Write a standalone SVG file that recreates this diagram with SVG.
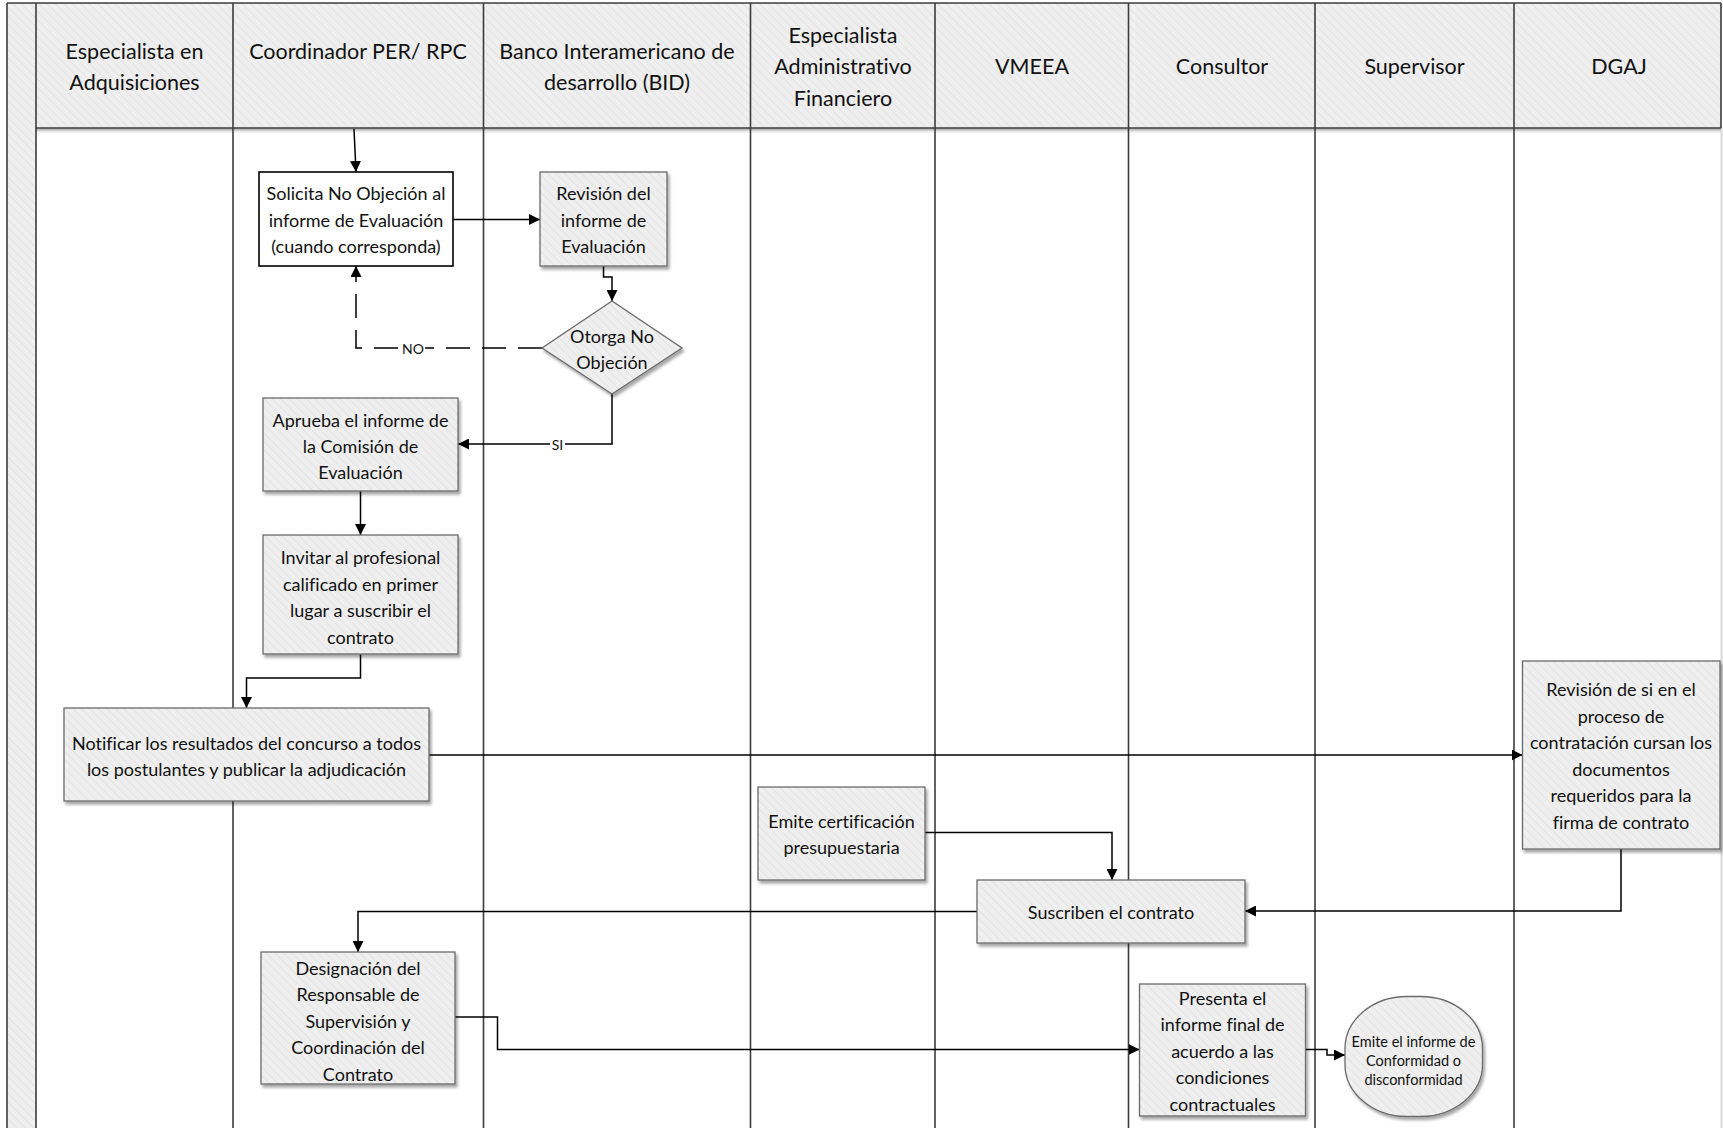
<svg xmlns="http://www.w3.org/2000/svg" width="1723" height="1128" viewBox="0 0 1723 1128">
<style>
text{font-family:Lato,"Liberation Sans",sans-serif;fill:#111;text-anchor:middle;dominant-baseline:central;font-variant-ligatures:none}
.hd{font-size:21.5px}
.t{font-size:18px}
.sm{font-size:14.5px}
.lbl{font-size:14px}
.lane{stroke:#3c3c3c;stroke-width:1.6;fill:none}
.box{fill:url(#hatch);stroke:#6a6a6a;stroke-width:1.3;filter:url(#sh)}
.wbox{fill:#fff;stroke:#000;stroke-width:1.6}
.cn{fill:none;stroke:#000;stroke-width:1.5}
.ca{fill:none;stroke:#000;stroke-width:1.5;marker-end:url(#arr)}
</style>
<defs>
<pattern id="hatch" width="6" height="6" patternUnits="userSpaceOnUse" patternTransform="rotate(-45)">
<rect width="6" height="6" fill="#efefef"/>
<line x1="0" y1="0" x2="0" y2="6" stroke="#e3e3e3" stroke-width="2"/>
</pattern>
<linearGradient id="hsh" x1="0" y1="0" x2="0" y2="1">
<stop offset="0" stop-color="#9a9a9a"/>
<stop offset="1" stop-color="#ffffff" stop-opacity="0"/>
</linearGradient>
<filter id="sh" x="-10%" y="-10%" width="130%" height="130%">
<feGaussianBlur in="SourceAlpha" stdDeviation="1.5"/>
<feOffset dx="2" dy="3" result="b"/>
<feComponentTransfer><feFuncA type="linear" slope="0.35"/></feComponentTransfer>
<feMerge><feMergeNode/><feMergeNode in="SourceGraphic"/></feMerge>
</filter>
<marker id="arr" viewBox="0 0 11 11" refX="11" refY="5.5" markerWidth="11" markerHeight="11" orient="auto" markerUnits="userSpaceOnUse">
<path d="M0,0 L11,5.5 L0,11 z" fill="#000"/>
</marker>
</defs>

<g id="pool">
<rect x="0" y="0" width="1723" height="1128" fill="#fff"/>
<rect x="7" y="3" width="29" height="1125" fill="url(#hatch)"/>
<rect x="36" y="3" width="1685" height="125" fill="url(#hatch)"/>
<rect x="36" y="128.5" width="1685" height="6" fill="url(#hsh)"/>
<line class="lane" x1="7" y1="3" x2="1721" y2="3" stroke-width="2"/>
<line class="lane" x1="7" y1="3" x2="7" y2="1128"/>
<line class="lane" x1="36" y1="3" x2="36" y2="1128"/>
<line class="lane" x1="233" y1="3" x2="233" y2="1128"/>
<line class="lane" x1="483.5" y1="3" x2="483.5" y2="1128"/>
<line class="lane" x1="750.5" y1="3" x2="750.5" y2="1128"/>
<line class="lane" x1="935" y1="3" x2="935" y2="1128"/>
<line class="lane" x1="1128.5" y1="3" x2="1128.5" y2="1128"/>
<line class="lane" x1="1315" y1="3" x2="1315" y2="1128"/>
<line class="lane" x1="1514" y1="3" x2="1514" y2="1128"/>
<line class="lane" x1="1721" y1="3" x2="1721" y2="128"/>
<line x1="1721.5" y1="128" x2="1721.5" y2="1128" stroke="#d8d8d8" stroke-width="2"/>
<line class="lane" x1="36" y1="128" x2="1721" y2="128"/>
</g>

<g id="headers">
<text class="hd" x="134.5" y="50.5">Especialista en</text>
<text class="hd" x="134.5" y="81.5">Adquisiciones</text>
<text class="hd" x="358" y="50.5">Coordinador PER/ RPC</text>
<text class="hd" x="617" y="50.5">Banco Interamericano de</text>
<text class="hd" x="617" y="81.5">desarrollo (BID)</text>
<text class="hd" x="843" y="34.5">Especialista</text>
<text class="hd" x="843" y="66">Administrativo</text>
<text class="hd" x="843" y="97.5">Financiero</text>
<text class="hd" x="1032" y="66">VMEEA</text>
<text class="hd" x="1222" y="66">Consultor</text>
<text class="hd" x="1414.5" y="66">Supervisor</text>
<text class="hd" x="1619" y="66">DGAJ</text>
</g>

<g id="connectors">
<path class="ca" d="M354,129 L356,172"/>
<path class="ca" d="M453,219.5 H540"/>
<path class="ca" d="M603.5,266 V277 H612 V301"/>
<path class="ca" d="M542,348 H356 V266" stroke-dasharray="24 12"/>
<rect x="401" y="340" width="24" height="16" fill="#fff"/>
<text class="lbl" x="413" y="348.5">NO</text>
<path class="ca" d="M612,394 V444 H458"/>
<rect x="550" y="436" width="15" height="16" fill="#fff"/>
<text class="lbl" x="557.5" y="444.5">SI</text>
<path class="ca" d="M360.5,491 V535"/>
<path class="ca" d="M360.5,654 V678 H246.5 V708"/>
<path class="ca" d="M429,755 H1522.5"/>
<path class="ca" d="M925,832.5 H1112 V880"/>
<path class="ca" d="M1621,849 V911 H1245"/>
<path class="ca" d="M977,911.5 H358 V952"/>
<path class="ca" d="M455,1017 H497.5 V1049.5 H1139.5"/>
<path class="ca" d="M1305.5,1049.5 H1327 V1055 H1345"/>
</g>

<g id="n1">
<rect class="wbox" x="259" y="172" width="194" height="94"/>
<text class="t" x="356" y="193">Solicita No Objeción al</text>
<text class="t" x="356" y="219.5">informe de Evaluación</text>
<text class="t" x="356" y="246">(cuando corresponda)</text>
</g>
<g id="n2">
<rect class="box" x="540" y="172" width="127" height="94"/>
<text class="t" x="603.5" y="193">Revisión del</text>
<text class="t" x="603.5" y="219.5">informe de</text>
<text class="t" x="603.5" y="246">Evaluación</text>
</g>
<g id="n3">
<polygon class="box" points="612,301 682,348 612,394 542,348"/>
<text class="t" x="612" y="336">Otorga No</text>
<text class="t" x="612" y="361.5">Objeción</text>
</g>
<g id="n4">
<rect class="box" x="263" y="398" width="195" height="93"/>
<text class="t" x="360.5" y="419.5">Aprueba el informe de</text>
<text class="t" x="360.5" y="446">la Comisión de</text>
<text class="t" x="360.5" y="472">Evaluación</text>
</g>
<g id="n5">
<rect class="box" x="263" y="535" width="195" height="119"/>
<text class="t" x="360.5" y="557">Invitar al profesional</text>
<text class="t" x="360.5" y="583.5">calificado en primer</text>
<text class="t" x="360.5" y="610">lugar a suscribir el</text>
<text class="t" x="360.5" y="636.5">contrato</text>
</g>
<g id="n6">
<rect class="box" x="64" y="708" width="365" height="93"/>
<text class="t" x="246.5" y="742.5">Notificar los resultados del concurso a todos</text>
<text class="t" x="246.5" y="769">los postulantes y publicar la adjudicación</text>
</g>
<g id="n7">
<rect class="box" x="1522.5" y="661" width="197.5" height="188"/>
<text class="t" x="1621" y="689">Revisión de si en el</text>
<text class="t" x="1621" y="715.5">proceso de</text>
<text class="t" x="1621" y="742">contratación cursan los</text>
<text class="t" x="1621" y="768.5">documentos</text>
<text class="t" x="1621" y="795">requeridos para la</text>
<text class="t" x="1621" y="821.5">firma de contrato</text>
</g>
<g id="n8">
<rect class="box" x="758" y="787" width="167" height="93"/>
<text class="t" x="841.5" y="820.5">Emite certificación</text>
<text class="t" x="841.5" y="847">presupuestaria</text>
</g>
<g id="n9">
<rect class="box" x="977" y="880" width="268" height="63"/>
<text class="t" x="1111" y="912">Suscriben el contrato</text>
</g>
<g id="n10">
<rect class="box" x="261" y="952" width="194" height="132"/>
<text class="t" x="358" y="967.5">Designación del</text>
<text class="t" x="358" y="994">Responsable de</text>
<text class="t" x="358" y="1020.5">Supervisión y</text>
<text class="t" x="358" y="1047">Coordinación del</text>
<text class="t" x="358" y="1073.5">Contrato</text>
</g>
<g id="n11">
<rect class="box" x="1139.5" y="984" width="166" height="132"/>
<text class="t" x="1222.5" y="997.5">Presenta el</text>
<text class="t" x="1222.5" y="1024">informe final de</text>
<text class="t" x="1222.5" y="1050.5">acuerdo a las</text>
<text class="t" x="1222.5" y="1077">condiciones</text>
<text class="t" x="1222.5" y="1103.5">contractuales</text>
</g>
<g id="n12">
<rect class="box" x="1345" y="996.5" width="137.5" height="120" rx="62" ry="52"/>
<text class="sm" x="1413.5" y="1041.5">Emite el informe de</text>
<text class="sm" x="1413.5" y="1060.5">Conformidad o</text>
<text class="sm" x="1413.5" y="1079.5">disconformidad</text>
</g>
</svg>
